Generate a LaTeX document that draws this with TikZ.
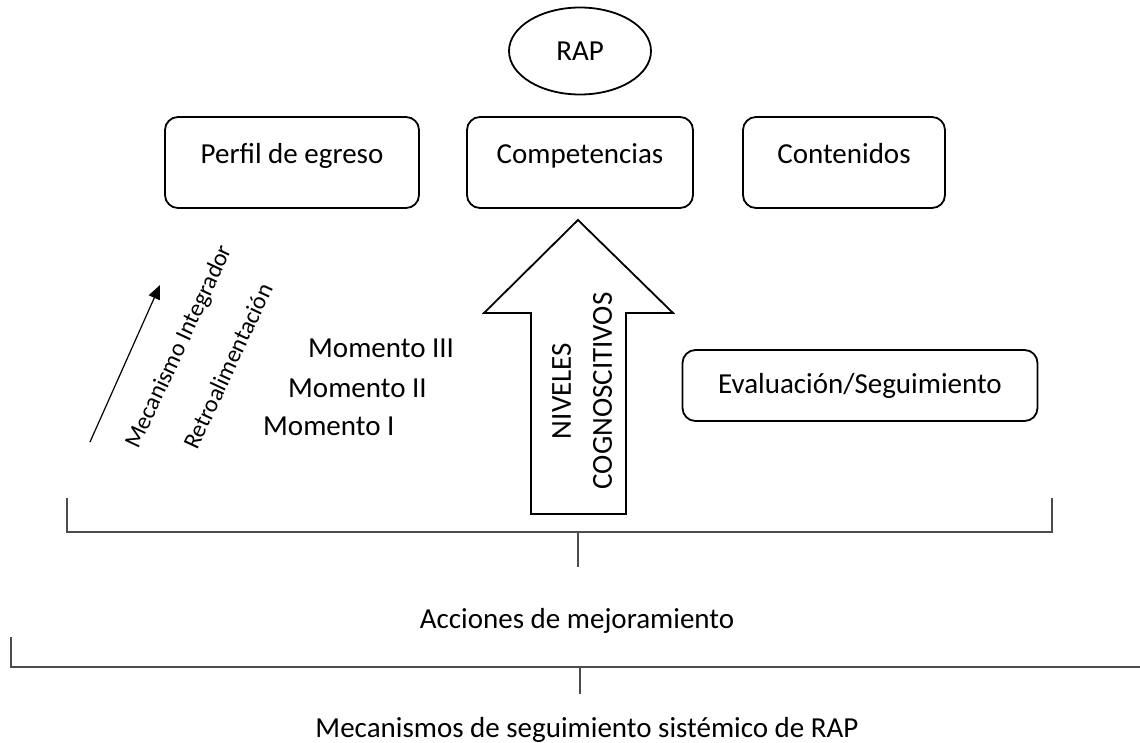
\documentclass[tikz,border=0pt]{standalone}
\usepackage{fontspec}
\setmainfont{Carlito}
\usetikzlibrary{arrows.meta,shapes.geometric}
\begin{document}
\begin{tikzpicture}[x=1pt,y=-1pt,
  box/.style={draw,line width=1.8pt,rounded corners=13pt,inner xsep=0pt,inner ysep=0pt,font=\fontsize{29}{35}\selectfont},
  lbl/.style={font=\fontsize{29}{35}\selectfont,inner sep=0pt},
  rot/.style={font=\fontsize{24}{29}\selectfont,inner sep=0pt,rotate=65},
  brk/.style={line width=1.4pt,draw=black!70},
  bigarrow/.style={line width=1.8pt,line join=miter}]
\useasboundingbox (0,0) rectangle (1140,742);
% RAP ellipse
\node[draw,ellipse,line width=1.8pt,minimum width=142pt,minimum height=87pt,inner sep=0pt,font=\fontsize{29}{35}\selectfont] (rap) at (580,51) {RAP};
% top boxes
\node[box,anchor=base,minimum width=254pt,text height=46pt,text depth=45pt] (perfil) at (292,163) {Perfil de egreso};
\node[box,anchor=base,minimum width=226pt,text height=46pt,text depth=45pt] (comp) at (580,163) {Competencias};
\node[box,anchor=base,minimum width=202pt,text height=46pt,text depth=45pt] (cont) at (844,163) {Contenidos};
% evaluation box
\node[box,anchor=base,minimum width=355pt,text height=43pt,text depth=28pt] (eval) at (860,393) {Evaluación/Seguimiento};
% big arrow
\draw[bigarrow] (531,514) -- (531,313) -- (484,313) -- (578,220) -- (673,313) -- (626,313) -- (626,514) -- cycle;
\node[inner sep=0pt,rotate=90,align=center,font=\fontsize{29}{41}\selectfont] (niv) at (582,391) {NIVELES\\COGNOSCITIVOS};
% momentos
\node[lbl,anchor=base west] (m3) at (308,357) {Momento III};
\node[lbl,anchor=base west] (m2) at (288,397) {Momento II};
\node[lbl,anchor=base west] (m1) at (263,435) {Momento I};
% thin arrow and rotated labels
\coordinate (atail) at (90,442);
\coordinate (ahead) at (160,285);
\draw[line width=1.2pt,-{Triangle[length=14pt,width=12pt]}] (atail) -- (ahead);
\node[rot] (mec) at (180,347) {Mecanismo Integrador};
\node[rot] (retro) at (228,366) {Retroalimentación};
% bracket 1
\coordinate (b1l) at (67,498);
\coordinate (b1r) at (1052,498);
\coordinate (b1m) at (578,532);
\coordinate (b1t) at (578,567);
\draw[brk] (b1l) |- (b1m) -| (b1r);
\draw[brk] (b1m) -- (b1t);
\node[lbl,anchor=base] (acc) at (577,628) {Acciones de mejoramiento};
% bracket 2
\coordinate (b2l) at (11,637);
\coordinate (b2m) at (580,667);
\coordinate (b2r) at (1141,667);
\coordinate (b2t) at (580,694);
\draw[brk] (b2l) |- (b2m) -- (b2r);
\draw[brk] (b2m) -- (b2t);
\node[lbl,anchor=base] (mecs) at (587,737) {Mecanismos de seguimiento sistémico de RAP};
\end{tikzpicture}
\end{document}
